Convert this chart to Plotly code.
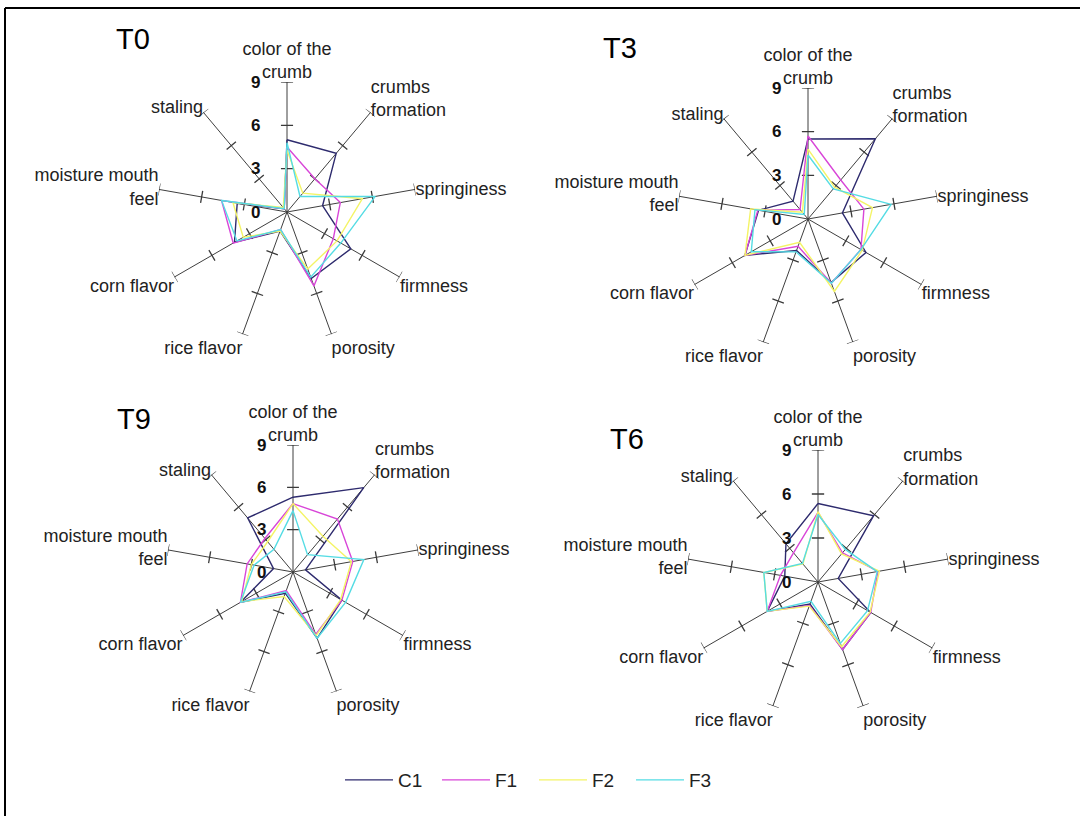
import math
import plotly.graph_objects as go

# ---------------- data ----------------
categories = ["color of the<br>crumb", "crumbs<br>formation", "springiness", "firmness",
              "porosity", "rice flavor", "corn flavor", "moisture mouth<br>feel", "staling"]
series_names = ["C1", "F1", "F2", "F3"]
series_colors = ["#2E2B6E", "#D846D8", "#F4F466", "#55DCE4"]
radial_ticks = [0, 3, 6, 9]

T0_C1 = [5.0, 5.3, 2.5, 5.1, 4.9, 1.4, 4.2, 3.5, 0.3]
T0_F1 = [4.5, 3.0, 3.75, 3.7, 5.45, 1.3, 4.3, 4.6, 0.3]
T0_F2 = [4.3, 1.7, 5.3, 4.0, 4.2, 1.4, 3.5, 3.8, 0.4]
T0_F3 = [4.8, 1.4, 6.2, 4.3, 4.8, 1.3, 4.0, 4.6, 0.3]

T3_C1 = [5.5, 7.2, 2.4, 4.6, 4.65, 2.3, 5.0, 3.45, 1.6]
T3_F1 = [5.7, 3.5, 3.9, 4.2, 4.7, 2.0, 5.0, 3.5, 0.85]
T3_F2 = [4.8, 2.85, 4.5, 4.3, 5.3, 1.7, 5.0, 4.0, 0.6]
T3_F3 = [4.4, 2.7, 5.8, 4.2, 4.7, 2.4, 4.5, 3.7, 0.4]

T9_C1 = [5.3, 7.8, 0.9, 4.0, 5.0, 1.6, 4.3, 1.4, 5.0]
T9_F1 = [4.85, 4.9, 4.3, 4.0, 4.7, 1.4, 4.3, 3.3, 3.1]
T9_F2 = [4.85, 3.3, 4.2, 3.9, 4.8, 1.85, 4.2, 3.0, 2.8]
T9_F3 = [4.35, 1.6, 5.1, 4.3, 5.0, 1.5, 4.3, 2.8, 2.1]

T6_C1 = [5.35, 5.9, 1.4, 4.15, 4.9, 1.6, 4.0, 2.3, 3.4]
T6_F1 = [4.75, 2.6, 4.15, 4.15, 4.9, 1.7, 4.0, 2.6, 2.6]
T6_F2 = [4.8, 2.5, 4.25, 4.1, 4.7, 1.75, 4.0, 3.75, 1.6]
T6_F3 = [4.6, 2.9, 4.1, 3.9, 4.45, 1.4, 4.0, 3.75, 1.65]

panel_titles = ["T0", "T3", "T9", "T6"]
panel_series = [
    [T0_C1, T0_F1, T0_F2, T0_F3],
    [T3_C1, T3_F1, T3_F2, T3_F3],
    [T9_C1, T9_F1, T9_F2, T9_F3],
    [T6_C1, T6_F1, T6_F2, T6_F3],
]

# ---------------- layout geometry (pixels) ----------------
W, H = 1080, 816
centers = [(287, 212, 130), (808, 219, 131), (293, 572, 127), (818, 582, 132)]
title_pos = [(133, 39), (620, 48), (134, 419), (627, 439)]

FONT = "Liberation Sans, Arial, sans-serif"
n = len(categories)
angles = [i * 360.0 / n for i in range(n)]

fig = go.Figure()
half_tick = 0.42

for p, (vals_list, title) in enumerate(zip(panel_series, panel_titles)):
    pid = "polar" if p == 0 else f"polar{p + 1}"
    # cross tick marks on every spoke
    tr, tt = [], []
    for a in angles:
        for t in radial_ticks[1:]:
            rr = math.hypot(t, half_tick)
            da = math.degrees(math.atan2(half_tick, t))
            tr += [rr, rr, None]
            tt += [a - da, a + da, None]
    fig.add_trace(go.Scatterpolar(r=tr, theta=tt, mode="lines", subplot=pid,
                                  line=dict(color="#3a3a3a", width=1.3),
                                  showlegend=False, hoverinfo="skip", cliponaxis=False))
    for s, (vals, name, col) in enumerate(zip(vals_list, series_names, series_colors)):
        fig.add_trace(go.Scatterpolar(
            r=vals + [vals[0]], theta=angles + [angles[0]], mode="lines",
            name=name, subplot=pid, line=dict(color=col, width=1.4),
            showlegend=(p == 0), legendgroup=name, cliponaxis=False))

    cx, cy, R = centers[p]
    polar_layout = dict(
        domain=dict(x=[(cx - R) / W, (cx + R) / W], y=[1 - (cy + R) / H, 1 - (cy - R) / H]),
        bgcolor="white",
        angularaxis=dict(direction="clockwise", rotation=90, tickvals=angles,
                         ticktext=categories, showline=False, showgrid=True,
                         gridcolor="#3f3f3f", gridwidth=1.4, ticks="",
                         tickfont=dict(family=FONT, size=18, color="#222")),
        radialaxis=dict(range=[0, 9], tickvals=radial_ticks, angle=90, tickangle=90,
                        side="counterclockwise", showgrid=False, showline=False,
                        ticks="outside", ticklen=20, tickcolor="rgba(0,0,0,0)",
                        tickfont=dict(family=FONT, size=17, color="#111", weight="bold")),
    )
    fig.layout[pid] = polar_layout

    tx, ty = title_pos[p]
    fig.add_annotation(x=tx / W, y=1 - ty / H, xref="paper", yref="paper", text=title,
                       showarrow=False, xanchor="center", yanchor="middle",
                       font=dict(family=FONT, size=29, color="#000"))

# frame lines (left and top edges visible)
fig.add_shape(type="line", xref="paper", yref="paper", x0=5 / W, x1=1.0, y0=1 - 8 / H, y1=1 - 8 / H,
              line=dict(color="#000", width=2))
fig.add_shape(type="line", xref="paper", yref="paper", x0=5 / W, x1=5 / W, y0=0, y1=1 - 8 / H,
              line=dict(color="#000", width=2))

fig.update_layout(
    width=W, height=H, paper_bgcolor="white", plot_bgcolor="white",
    margin=dict(l=0, r=0, t=0, b=0),
    showlegend=True,
    legend=dict(orientation="h", x=534 / W, xanchor="center", y=1 - 780 / H, yanchor="middle",
                font=dict(family=FONT, size=19, color="#222"), itemwidth=48,
                entrywidth=34, entrywidthmode="pixels",
                bgcolor="rgba(0,0,0,0)"),
)

fig.write_html("out.html", config={"displayModeBar": False},
               post_script="document.body.style.margin='0px';")
